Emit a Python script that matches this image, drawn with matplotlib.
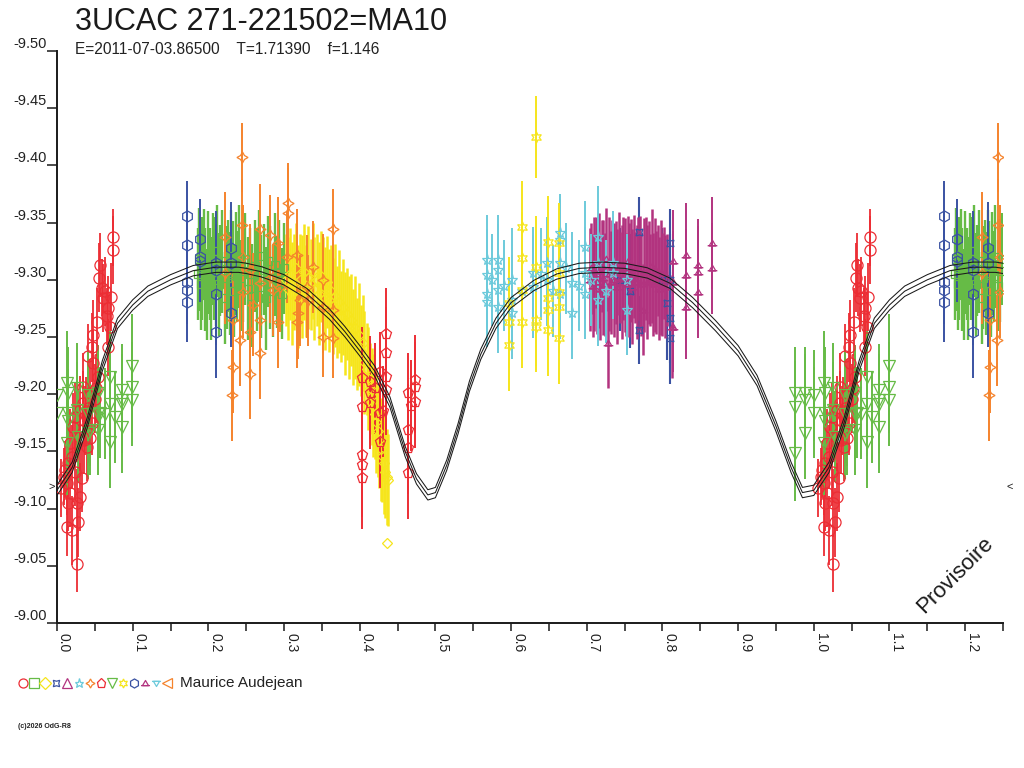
import numpy as np
import matplotlib
matplotlib.use("Agg")
import matplotlib.pyplot as plt
from matplotlib.path import Path
from matplotlib.lines import Line2D
from matplotlib.transforms import blended_transform_factory

plt.rcParams['font.family'] = ['Liberation Sans', 'DejaVu Sans']

# ---------------- data (phase, magnitude, error) ----------------
title = "3UCAC 271-221502=MA10"
subtitle = "E=2011-07-03.86500    T=1.71390    f=1.146"
observer = "Maurice Audejean"
copyright_txt = "(c)2026 OdG-R8"
watermark = "Provisoire"

x_major = [0.0, 0.1, 0.2, 0.3, 0.4, 0.5, 0.6, 0.7, 0.8, 0.9, 1.0, 1.1, 1.2]
y_major = [-9.50, -9.45, -9.40, -9.35, -9.30, -9.25, -9.20, -9.15, -9.10, -9.05, -9.00]

model_phase = [0.00, 0.02, 0.04, 0.06, 0.08, 0.10, 0.12, 0.15, 0.18, 0.21, 0.24, 0.25, 0.27,
               0.30, 0.33, 0.36, 0.38, 0.40, 0.42, 0.44, 0.46, 0.475, 0.49, 0.50, 0.515,
               0.53, 0.545, 0.56, 0.58, 0.60, 0.63, 0.66, 0.69, 0.72, 0.75, 0.78, 0.81,
               0.84, 0.87, 0.90, 0.925, 0.95, 0.97, 0.985, 1.00]
model_mag = [-9.116, -9.136, -9.175, -9.225, -9.262, -9.278, -9.290, -9.300, -9.308, -9.311,
             -9.311, -9.310, -9.307, -9.300, -9.288, -9.270, -9.255, -9.238, -9.220, -9.193,
             -9.150, -9.126, -9.112, -9.114, -9.138, -9.170, -9.207, -9.235, -9.262, -9.280,
             -9.295, -9.305, -9.310, -9.311, -9.310, -9.306, -9.297, -9.280, -9.260, -9.238,
             -9.212, -9.172, -9.136, -9.114, -9.116]
model_band = 0.0045
min_marker_mag = -9.119

red_circles = [
    (0.074, -9.337, 0.025), (0.074, -9.326, 0.030), (0.057, -9.313, 0.028), (0.056, -9.302, 0.030),
    (0.059, -9.293, 0.025), (0.061, -9.284, 0.030), (0.068, -9.275, 0.028), (0.072, -9.285, 0.030),
    (0.066, -9.268, 0.025), (0.070, -9.259, 0.030), (0.053, -9.263, 0.030), (0.068, -9.241, 0.025),
    (0.048, -9.252, 0.030), (0.046, -9.241, 0.030), (0.041, -9.233, 0.028), (0.048, -9.227, 0.030),
    (0.054, -9.215, 0.025), (0.034, -9.206, 0.030), (0.044, -9.201, 0.030), (0.034, -9.192, 0.028),
    (0.030, -9.186, 0.030), (0.041, -9.188, 0.025), (0.024, -9.180, 0.030), (0.037, -9.177, 0.030),
    (0.046, -9.175, 0.028), (0.021, -9.171, 0.030), (0.030, -9.163, 0.030), (0.044, -9.162, 0.025),
    (0.017, -9.157, 0.030), (0.040, -9.154, 0.030), (0.020, -9.145, 0.028), (0.015, -9.140, 0.030),
    (0.011, -9.134, 0.025), (0.024, -9.132, 0.030), (0.033, -9.127, 0.030), (0.013, -9.122, 0.028),
    (0.017, -9.114, 0.030), (0.030, -9.110, 0.030), (0.015, -9.105, 0.025), (0.026, -9.105, 0.030),
    (0.013, -9.084, 0.025), (0.028, -9.088, 0.030), (0.020, -9.081, 0.030), (0.026, -9.052, 0.025),
    (0.050, -9.196, 0.030), (0.063, -9.290, 0.030), (0.038, -9.185, 0.030), (0.009, -9.128, 0.025),
    (0.005, -9.118, 0.025), (0.052, -9.205, 0.030), (0.042, -9.170, 0.030), (0.036, -9.160, 0.030),
]

green_squares = [
    (0.186, -9.305, 0.040), (0.188, -9.318, 0.045), (0.190, -9.296, 0.040), (0.192, -9.310, 0.045),
    (0.194, -9.322, 0.040), (0.196, -9.300, 0.045), (0.198, -9.287, 0.040), (0.200, -9.315, 0.045),
    (0.202, -9.305, 0.040), (0.204, -9.292, 0.045), (0.206, -9.318, 0.040), (0.208, -9.310, 0.045),
    (0.210, -9.300, 0.040), (0.212, -9.325, 0.040), (0.214, -9.296, 0.045), (0.216, -9.308, 0.040),
    (0.218, -9.316, 0.045), (0.222, -9.284, 0.040), (0.224, -9.302, 0.045), (0.226, -9.312, 0.040),
    (0.228, -9.297, 0.045), (0.230, -9.321, 0.040), (0.232, -9.306, 0.045), (0.234, -9.290, 0.040),
    (0.236, -9.314, 0.045), (0.238, -9.303, 0.040), (0.240, -9.320, 0.045), (0.243, -9.295, 0.040),
    (0.246, -9.308, 0.045), (0.249, -9.318, 0.040), (0.252, -9.292, 0.045), (0.255, -9.305, 0.040),
    (0.258, -9.286, 0.045), (0.261, -9.312, 0.040), (0.264, -9.300, 0.045), (0.267, -9.321, 0.040),
    (0.270, -9.294, 0.045), (0.273, -9.309, 0.040), (0.276, -9.284, 0.045), (0.279, -9.316, 0.040),
    (0.282, -9.302, 0.045), (0.285, -9.290, 0.040), (0.288, -9.313, 0.045), (0.291, -9.298, 0.040),
    (0.294, -9.307, 0.045), (0.297, -9.288, 0.040), (0.300, -9.310, 0.040),
]

yellow_diamonds = [
    (0.302, -9.300, 0.040), (0.305, -9.292, 0.045), (0.308, -9.305, 0.040), (0.310, -9.288, 0.045),
    (0.313, -9.298, 0.042), (0.316, -9.310, 0.040), (0.318, -9.285, 0.045), (0.321, -9.300, 0.040),
    (0.324, -9.294, 0.045), (0.327, -9.307, 0.042), (0.329, -9.290, 0.040), (0.332, -9.302, 0.045),
    (0.335, -9.296, 0.040), (0.338, -9.308, 0.042), (0.340, -9.292, 0.045), (0.343, -9.300, 0.040),
    (0.346, -9.288, 0.045), (0.349, -9.303, 0.040), (0.351, -9.295, 0.042), (0.354, -9.284, 0.045),
    (0.357, -9.298, 0.040), (0.359, -9.282, 0.045), (0.362, -9.290, 0.040), (0.365, -9.277, 0.042),
    (0.367, -9.286, 0.045), (0.370, -9.272, 0.040), (0.373, -9.281, 0.045), (0.375, -9.268, 0.040),
    (0.378, -9.276, 0.042), (0.381, -9.262, 0.045), (0.383, -9.270, 0.040), (0.386, -9.258, 0.045),
    (0.389, -9.265, 0.040), (0.391, -9.250, 0.042), (0.394, -9.258, 0.045), (0.397, -9.244, 0.040),
    (0.399, -9.252, 0.045), (0.402, -9.238, 0.040), (0.404, -9.245, 0.042), (0.406, -9.228, 0.045),
    (0.409, -9.222, 0.040), (0.411, -9.214, 0.045), (0.413, -9.205, 0.040), (0.416, -9.198, 0.042),
    (0.418, -9.190, 0.045), (0.420, -9.183, 0.040), (0.422, -9.176, 0.045), (0.424, -9.168, 0.040),
    (0.426, -9.160, 0.042), (0.428, -9.152, 0.045), (0.430, -9.146, 0.040), (0.432, -9.140, 0.045),
    (0.434, -9.132, 0.040), (0.436, -9.128, 0.042), (0.438, -9.125, 0.040), (0.436, -9.070, 0.000),
]

blue_4stars = [
    (0.744, -9.300, 0.045), (0.757, -9.290, 0.050), (0.769, -9.342, 0.030), (0.769, -9.256, 0.030),
    (0.800, -9.300, 0.045), (0.806, -9.280, 0.050), (0.810, -9.332, 0.030), (0.810, -9.300, 0.040),
    (0.810, -9.267, 0.040), (0.810, -9.249, 0.040),
]

purple_triangles = [
    (0.704, -9.300, 0.045), (0.706, -9.310, 0.040), (0.708, -9.295, 0.045), (0.710, -9.305, 0.050),
    (0.712, -9.315, 0.040), (0.714, -9.298, 0.045), (0.716, -9.308, 0.050), (0.718, -9.292, 0.045),
    (0.720, -9.312, 0.040), (0.722, -9.302, 0.050), (0.724, -9.296, 0.045), (0.726, -9.318, 0.045),
    (0.728, -9.245, 0.040), (0.730, -9.305, 0.050), (0.732, -9.298, 0.045), (0.734, -9.312, 0.040),
    (0.736, -9.300, 0.050), (0.738, -9.306, 0.045), (0.740, -9.294, 0.050), (0.742, -9.314, 0.045),
    (0.744, -9.302, 0.040), (0.746, -9.298, 0.050), (0.748, -9.310, 0.045), (0.750, -9.304, 0.050),
    (0.752, -9.296, 0.045), (0.754, -9.316, 0.040), (0.756, -9.300, 0.050), (0.758, -9.308, 0.045),
    (0.760, -9.294, 0.050), (0.762, -9.312, 0.045), (0.764, -9.302, 0.040), (0.766, -9.298, 0.050),
    (0.768, -9.310, 0.045), (0.770, -9.306, 0.050), (0.772, -9.296, 0.045), (0.774, -9.274, 0.040),
    (0.776, -9.304, 0.050), (0.778, -9.310, 0.045), (0.780, -9.298, 0.050), (0.782, -9.306, 0.045),
    (0.784, -9.300, 0.040), (0.786, -9.312, 0.050), (0.788, -9.296, 0.045), (0.790, -9.304, 0.050),
    (0.792, -9.298, 0.045), (0.794, -9.308, 0.040), (0.796, -9.292, 0.045), (0.798, -9.302, 0.050),
    (0.800, -9.296, 0.045), (0.802, -9.306, 0.040), (0.804, -9.294, 0.045), (0.806, -9.300, 0.040),
    (0.813, -9.259, 0.045),
]

cyan_stars = [
    (0.568, -9.317, 0.040), (0.568, -9.304, 0.040), (0.568, -9.288, 0.035), (0.568, -9.281, 0.040),
    (0.583, -9.317, 0.040), (0.583, -9.309, 0.040), (0.583, -9.291, 0.040), (0.583, -9.276, 0.040),
    (0.601, -9.300, 0.045), (0.601, -9.282, 0.040), (0.601, -9.271, 0.040), (0.629, -9.306, 0.040),
    (0.629, -9.294, 0.045), (0.647, -9.315, 0.040), (0.647, -9.300, 0.040), (0.665, -9.341, 0.030),
    (0.665, -9.335, 0.040), (0.665, -9.315, 0.040), (0.665, -9.288, 0.040), (0.681, -9.297, 0.045),
    (0.681, -9.271, 0.040), (0.698, -9.329, 0.040), (0.698, -9.306, 0.040), (0.698, -9.288, 0.040),
    (0.715, -9.337, 0.045), (0.715, -9.315, 0.040), (0.715, -9.282, 0.040), (0.735, -9.315, 0.045),
    (0.735, -9.306, 0.040), (0.753, -9.300, 0.040), (0.753, -9.274, 0.040), (0.575, -9.300, 0.040),
    (0.590, -9.295, 0.040), (0.615, -9.290, 0.040), (0.640, -9.305, 0.040), (0.655, -9.290, 0.040),
    (0.672, -9.310, 0.040), (0.690, -9.295, 0.040), (0.706, -9.300, 0.040), (0.725, -9.290, 0.045),
]

orange_4stars = [
    (0.244, -9.407, 0.030), (0.305, -9.367, 0.035), (0.305, -9.358, 0.040), (0.268, -9.344, 0.040),
    (0.281, -9.339, 0.035), (0.244, -9.348, 0.040), (0.222, -9.337, 0.040), (0.292, -9.332, 0.040),
    (0.365, -9.344, 0.035), (0.317, -9.322, 0.040), (0.246, -9.320, 0.045), (0.304, -9.320, 0.040),
    (0.222, -9.306, 0.045), (0.255, -9.309, 0.040), (0.268, -9.297, 0.045), (0.281, -9.302, 0.040),
    (0.295, -9.294, 0.040), (0.338, -9.311, 0.040), (0.352, -9.300, 0.040), (0.330, -9.294, 0.045),
    (0.246, -9.289, 0.040), (0.259, -9.278, 0.045), (0.285, -9.291, 0.040), (0.321, -9.282, 0.040),
    (0.332, -9.282, 0.040), (0.352, -9.276, 0.040), (0.365, -9.274, 0.035), (0.268, -9.265, 0.045),
    (0.292, -9.263, 0.040), (0.233, -9.265, 0.040), (0.255, -9.254, 0.040), (0.352, -9.250, 0.035),
    (0.365, -9.249, 0.035), (0.242, -9.247, 0.040), (0.268, -9.236, 0.040), (0.233, -9.224, 0.040),
    (0.255, -9.218, 0.040), (0.231, -9.199, 0.040), (0.319, -9.271, 0.040), (0.317, -9.263, 0.040),
]

red_pentagons = [
    (0.403, -9.214, 0.045), (0.403, -9.189, 0.045), (0.403, -9.147, 0.045), (0.403, -9.138, 0.045),
    (0.403, -9.127, 0.045), (0.414, -9.211, 0.040), (0.414, -9.201, 0.040), (0.414, -9.192, 0.040),
    (0.427, -9.219, 0.035), (0.427, -9.184, 0.040), (0.427, -9.158, 0.040), (0.435, -9.253, 0.040),
    (0.435, -9.236, 0.040), (0.435, -9.215, 0.045), (0.435, -9.204, 0.040), (0.464, -9.201, 0.035),
    (0.464, -9.169, 0.040), (0.464, -9.153, 0.040), (0.464, -9.131, 0.040), (0.473, -9.212, 0.040),
    (0.473, -9.206, 0.040), (0.473, -9.193, 0.040), (0.468, -9.190, 0.040), (0.420, -9.205, 0.040),
    (0.431, -9.185, 0.040),
]

green_triangles = [
    (0.000, -9.199, 0.040), (0.000, -9.184, 0.040), (0.013, -9.210, 0.045), (0.015, -9.201, 0.040),
    (0.015, -9.184, 0.038), (0.015, -9.177, 0.040), (0.013, -9.157, 0.045), (0.026, -9.205, 0.040),
    (0.026, -9.186, 0.042), (0.028, -9.163, 0.040), (0.041, -9.199, 0.040), (0.041, -9.183, 0.038),
    (0.044, -9.169, 0.040), (0.054, -9.201, 0.042), (0.057, -9.184, 0.040), (0.054, -9.183, 0.040),
    (0.070, -9.215, 0.040), (0.070, -9.191, 0.045), (0.070, -9.158, 0.040), (0.086, -9.204, 0.040),
    (0.086, -9.195, 0.040), (0.086, -9.191, 0.042), (0.086, -9.171, 0.040), (0.099, -9.225, 0.045),
    (0.099, -9.206, 0.040), (0.099, -9.195, 0.040), (0.054, -9.169, 0.040), (0.041, -9.166, 0.040),
    (0.975, -9.201, 0.040), (0.975, -9.189, 0.040), (0.975, -9.149, 0.042), (0.988, -9.201, 0.040),
    (0.988, -9.195, 0.040), (0.988, -9.166, 0.040), (0.063, -9.183, 0.040), (0.077, -9.180, 0.040),
]

yellow_stars = [
    (0.597, -9.280, 0.040), (0.597, -9.263, 0.040), (0.597, -9.243, 0.040), (0.614, -9.346, 0.040),
    (0.614, -9.319, 0.040), (0.614, -9.291, 0.040), (0.614, -9.263, 0.040), (0.633, -9.425, 0.036),
    (0.633, -9.311, 0.045), (0.633, -9.265, 0.040), (0.633, -9.259, 0.040), (0.649, -9.333, 0.040),
    (0.649, -9.284, 0.040), (0.649, -9.274, 0.040), (0.649, -9.256, 0.040), (0.663, -9.332, 0.035),
    (0.663, -9.306, 0.040), (0.663, -9.289, 0.040), (0.663, -9.276, 0.040), (0.663, -9.249, 0.040),
]

blue_hexagons = [
    (0.172, -9.356, 0.030), (0.172, -9.330, 0.030), (0.172, -9.298, 0.030), (0.172, -9.291, 0.030),
    (0.172, -9.281, 0.035), (0.189, -9.336, 0.035), (0.189, -9.320, 0.035), (0.189, -9.316, 0.035),
    (0.210, -9.315, 0.045), (0.210, -9.309, 0.040), (0.210, -9.288, 0.045), (0.210, -9.254, 0.040),
    (0.230, -9.328, 0.040), (0.230, -9.315, 0.035), (0.230, -9.271, 0.030),
]

purple_startri = [
    (0.814, -9.316, 0.045), (0.814, -9.298, 0.045), (0.814, -9.259, 0.040), (0.831, -9.322, 0.045),
    (0.831, -9.304, 0.040), (0.831, -9.276, 0.045), (0.847, -9.313, 0.040), (0.847, -9.307, 0.040),
    (0.847, -9.289, 0.040), (0.866, -9.332, 0.040), (0.866, -9.310, 0.040),
]

# ---------------- styles ----------------
RED, GREEN, YELLOW = '#ec2d34', '#66bb46', '#f6e51c'
BLUE, PURPLE, CYAN, ORANGE = '#3a52a2', '#b2337f', '#6ccadb', '#f5832c'

tri_bar = Path([(-1.0, -0.7), (0.0, 1.0), (1.0, -0.7), (-1.0, -0.7), (-1.5, -0.7), (1.5, -0.7)],
               [Path.MOVETO, Path.LINETO, Path.LINETO, Path.CLOSEPOLY, Path.MOVETO, Path.LINETO])
tri_bar_down = Path([(-1.0, 0.7), (0.0, -1.0), (1.0, 0.7), (-1.0, 0.7), (-1.5, 0.7), (1.5, 0.7)],
                    [Path.MOVETO, Path.LINETO, Path.LINETO, Path.CLOSEPOLY, Path.MOVETO, Path.LINETO])

# (data, colour, marker, marker size, error-bar width)
series = [
    (red_circles, RED, 'o', 8, 1.3),
    (green_squares, GREEN, 's', 6, 1.7),
    (yellow_diamonds, YELLOW, 'D', 5.5, 1.8),
    (blue_4stars, BLUE, (4, 1, 45), 7, 1.5),
    (purple_triangles, PURPLE, tri_bar, 7, 1.8),
    (cyan_stars, CYAN, '*', 8, 1.4),
    (orange_4stars, ORANGE, (4, 1, 0), 8, 1.4),
    (red_pentagons, RED, 'p', 8, 1.4),
    (green_triangles, GREEN, 'v', 8, 1.4),
    (yellow_stars, YELLOW, (6, 1, 0), 8, 1.4),
    (blue_hexagons, BLUE, 'h', 8, 1.4),
    (purple_startri, PURPLE, tri_bar, 7, 1.4),
]
legend_markers = [
    (RED, 'o'), (GREEN, 's'), (YELLOW, 'D'), (BLUE, (4, 1, 45)), (PURPLE, '^'), (CYAN, '*'),
    (ORANGE, (4, 1, 0)), (RED, 'p'), (GREEN, 'v'), (YELLOW, (6, 1, 0)), (BLUE, 'h'),
    (PURPLE, tri_bar), (CYAN, tri_bar_down), (ORANGE, '<'),
]

X_MAX = 1.25

# ---------------- figure ----------------
W, H = 1024, 768
fig = plt.figure(figsize=(W / 100, H / 100), dpi=100)
ax = fig.add_axes([57 / W, 1 - 623 / H, (1003 - 57) / W, (623 - 51) / H])

for data, col, mk, ms, ew in series:
    arr = np.array(data)
    ph, mag, err = arr[:, 0], arr[:, 1], arr[:, 2]
    extra = ph + 1 <= X_MAX
    x = np.concatenate([ph, ph[extra] + 1])
    y = np.concatenate([mag, mag[extra]])
    e = np.concatenate([err, err[extra]])
    ax.errorbar(x, y, yerr=e, fmt='none', ecolor=col, elinewidth=ew, capsize=0, zorder=2)
    ax.plot(x, y, linestyle='none', marker=mk, ms=ms, mfc='none', mec=col, mew=0.9, zorder=3)

mp = np.array(model_phase)
mm = np.array(model_mag)
mx = np.concatenate([mp, mp[1:] + 1])
my = np.concatenate([mm, mm[1:]])
for off in (-model_band, 0.0, model_band):
    ax.plot(mx, my + off, color='#1a1a1a', lw=0.75, zorder=4)

ax.set_xlim(0, X_MAX)
ax.set_ylim(-9.0, -9.5)

for s in ('top', 'right'):
    ax.spines[s].set_visible(False)
for s in ('left', 'bottom'):
    ax.spines[s].set_linewidth(1.4)
    ax.spines[s].set_color('#1a1a1a')

ax.set_xticks(x_major)
ax.set_xticklabels([f"{v:.1f}" for v in x_major])
ax.set_xticks([v + 0.05 for v in x_major], minor=True)
ax.tick_params(axis='x', which='both', direction='out', length=6, width=1.1, color='#1a1a1a',
               labelsize=10, pad=1.5)
for lbl in ax.get_xticklabels():
    lbl.set_rotation(-90)
    lbl.set_ha('left')
    lbl.set_va('top')
    lbl.set_color('#222222')

ax.set_yticks(y_major)
ax.set_yticklabels([f"{v:.2f}" for v in y_major])
ax.tick_params(axis='y', which='major', direction='out', length=7.5, width=1.1, color='#1a1a1a',
               labelsize=10.5, pad=0)
for lbl in ax.get_yticklabels():
    lbl.set_va('bottom')
    lbl.set_color('#222222')

# edge markers at model minimum level
tr = blended_transform_factory(ax.transAxes, ax.transData)
ax.text(-0.002, min_marker_mag, '>', transform=tr, ha='right', va='center', fontsize=8,
        color='#1a1a1a', clip_on=False)
ax.text(1.004, min_marker_mag, '<', transform=tr, ha='left', va='center', fontsize=8,
        color='#1a1a1a', clip_on=False)

# texts
fig.text(75 / W, 1 - 30 / H, title, fontsize=22, va='baseline', ha='left', color='#1a1a1a')
fig.text(75 / W, 1 - 54 / H, subtitle, fontsize=11.2, va='baseline', ha='left', color='#222222')
fig.text(955 / W, 1 - 575 / H, watermark, fontsize=16, rotation=45, ha='center', va='center',
         color='#1a1a1a')
fig.text(18 / W, 1 - 728 / H, copyright_txt, fontsize=5, ha='left', va='baseline',
         weight='bold', color='#222222')

# legend row
leg_y = 1 - 683 / H
for i, (col, mk) in enumerate(legend_markers):
    fig.add_artist(Line2D([(23 + i * 11.1) / W], [leg_y], marker=mk, ms=6.5, mfc='none',
                          mec=col, mew=0.9, linestyle='none', transform=fig.transFigure))
fig.text(180 / W, leg_y, observer, fontsize=11, ha='left', va='center', color='#222222')

fig.savefig('out.png', dpi=100)
